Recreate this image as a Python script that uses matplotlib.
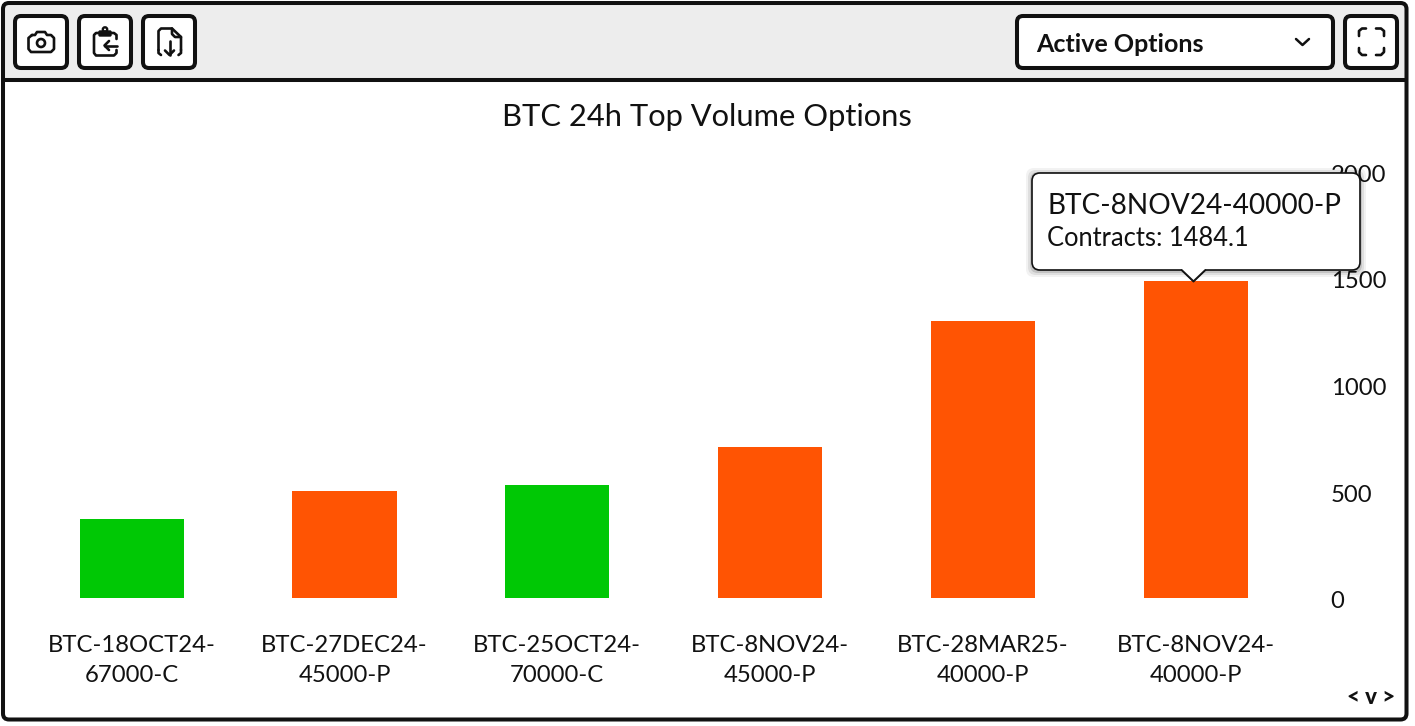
import matplotlib
matplotlib.use("Agg")
import matplotlib.pyplot as plt
from matplotlib.patches import FancyBboxPatch, Rectangle, Polygon, Circle

plt.rcParams['font.family'] = ['Lato', 'DejaVu Sans']

W, H = 1415, 726
categories = ["BTC-18OCT24-\n67000-C", "BTC-27DEC24-\n45000-P", "BTC-25OCT24-\n70000-C",
              "BTC-8NOV24-\n45000-P", "BTC-28MAR25-\n40000-P", "BTC-8NOV24-\n40000-P"]
contracts = [370, 501, 529, 707, 1297, 1484.1]
sides = ["C", "P", "C", "P", "P", "P"]
side_colors = {"C": "#00C805", "P": "#FF5403"}
y_ticks = [0, 500, 1000, 1500, 2000]
title = "BTC 24h Top Volume Options"
tooltip_lines = ["BTC-8NOV24-40000-P", "Contracts: 1484.1"]
dropdown_label = "Active Options"
INK = "#111111"

fig = plt.figure(figsize=(W / 100, H / 100), dpi=100, facecolor="white")

# chart axes placed in pixel terms
L, R, T, B = 25.3, 1302.1, 171, 598
ax = fig.add_axes([L / W, 1 - B / H, (R - L) / W, (B - T) / H], zorder=2)
ax.patch.set_alpha(0)
ax.bar(range(len(contracts)), contracts, width=0.49,
       color=[side_colors[s] for s in sides], linewidth=0)
ax.set_xlim(-0.5, 5.5)
ax.set_ylim(0, 2000)
ax.yaxis.tick_right()
ax.set_yticks(y_ticks)
ax.set_xticks(range(len(categories)))
ax.set_xticklabels(categories, fontsize=17.2, color=INK, linespacing=1.55)
ax.tick_params(axis='x', length=0, pad=26.5)
ax.tick_params(axis='y', length=0, pad=20.5, labelsize=17.2, labelcolor=INK)
for lab in ax.get_yticklabels():
    lab.set_transform(lab.get_transform() + matplotlib.transforms.ScaledTranslation(0, -2 / 100, fig.dpi_scale_trans))
for s in ax.spines.values():
    s.set_visible(False)

# overlay in pixel coordinates for the app chrome and the tooltip
ov = fig.add_axes([0, 0, 1, 1], zorder=3)
ov.set_xlim(0, W)
ov.set_ylim(H, 0)
ov.axis("off")
ov.patch.set_alpha(0)

bg = fig.add_axes([0, 0, 1, 1], zorder=1)
bg.set_xlim(0, W)
bg.set_ylim(H, 0)
bg.axis("off")
bg.add_patch(Rectangle((4, 4), 1402, 76, facecolor="#EDEDED", edgecolor="none"))
bg.text(707, 117, title, ha="center", va="center", fontsize=22.2, color=INK)

LW = 2.9

def button(x0, y0, x1, y1, r=6):
    ov.add_patch(FancyBboxPatch((x0 + r, y0 + r), x1 - x0 - 2 * r, y1 - y0 - 2 * r,
                                boxstyle=f"round,pad={r},rounding_size={r}",
                                facecolor="white", edgecolor=INK, linewidth=LW, zorder=3))

def stroke(xs, ys, lw=1.9):
    ov.plot(xs, ys, color=INK, lw=lw, solid_capstyle="round", solid_joinstyle="round", zorder=4)

# outer frame
ov.add_patch(FancyBboxPatch((9, 9), 1391.5, 704.5, boxstyle="round,pad=6,rounding_size=6",
                            facecolor="none", edgecolor=INK, linewidth=LW, zorder=2))
ov.plot([3, 1406.5], [80, 80], color=INK, lw=LW, zorder=2, solid_capstyle="butt")

button(15, 16, 67, 68)
button(79, 16, 131, 68)
button(143, 16, 195, 68)
button(1017, 16, 1333, 68)
button(1345, 16, 1397, 68)

# camera
stroke([32, 35, 37, 45, 47, 51, 54, 54, 51, 31, 28.5, 28.5, 32],
       [35, 35, 32, 32, 35, 35, 38, 49, 52, 52, 49, 38, 35])
ov.add_patch(Circle((41, 43), 4.0, facecolor="none", edgecolor=INK, linewidth=1.9, zorder=4))

# clipboard with arrow
stroke([99, 96, 94, 94, 96, 114, 116.5, 116.5], [33, 33, 35, 53, 55.5, 55.5, 53, 50])
stroke([111, 114, 116.5, 116.5], [33, 33, 35, 39])
ov.add_patch(FancyBboxPatch((100, 32), 10, 3, boxstyle="round,pad=1,rounding_size=1",
                            facecolor=INK, edgecolor=INK, linewidth=1, zorder=4))
ov.add_patch(Circle((105, 29.5), 2.2, facecolor="none", edgecolor=INK, linewidth=1.7, zorder=4))
stroke([117, 104.5], [45.5, 45.5])
stroke([109, 104.5, 109], [41, 45.5, 50])

# file with down arrow
stroke([158.5, 158.5, 161, 172, 181, 181], [50, 31, 28.5, 28.5, 37, 50])
stroke([172, 172, 175, 181], [28.5, 34, 37, 37])
stroke([158.5, 158.5, 161], [50, 53, 55])
stroke([181, 181, 178.5], [50, 53, 55])
stroke([169.5, 169.5], [41, 55])
stroke([165, 169.5, 174], [50.5, 55, 50.5])

# dropdown
ov.text(1036, 44, dropdown_label, ha="left", va="center", fontsize=18.0,
        fontweight="bold", color=INK, zorder=4)
stroke([1296, 1302.5, 1309], [39, 45, 39], lw=1.8)

# fullscreen corners
stroke([1359, 1359, 1362, 1366], [36, 31, 28.5, 28.5])
stroke([1376, 1381, 1384, 1384], [28.5, 28.5, 31, 36])
stroke([1359, 1359, 1362, 1366], [48, 52, 55, 55])
stroke([1376, 1381, 1384, 1384], [55, 55, 52, 48])

# small navigation marks
ov.text(1371, 697, "< v >", ha="center", va="center", fontsize=16,
        fontweight="black", color=INK, zorder=4)

# tooltip shadow, body and pointer
for off, a in [(8, 0.05), (6, 0.08), (4, 0.12), (2, 0.14)]:
    ov.add_patch(FancyBboxPatch((1040 - off + 2, 181 - off + 3), 312 + 2 * off - 4, 81 + 2 * off - 4,
                                boxstyle="round,pad=8,rounding_size=8",
                                facecolor="black", edgecolor="none", alpha=a, zorder=5))
ov.add_patch(FancyBboxPatch((1040, 181), 312, 81, boxstyle="round,pad=8,rounding_size=8",
                            facecolor="white", edgecolor=INK, linewidth=1.2, zorder=6))
ov.add_patch(Polygon([[1181, 270], [1193.5, 282], [1206, 270]], closed=True,
                     facecolor=INK, edgecolor=INK, linewidth=0.8, zorder=6))
ov.add_patch(Polygon([[1182, 269], [1193.5, 280], [1205, 269]], closed=True,
                     facecolor="white", edgecolor="none", zorder=7))
ov.text(1047, 206, tooltip_lines[0], ha="left", va="center", fontsize=20.2, color=INK, zorder=8)
ov.text(1047, 239, tooltip_lines[1], ha="left", va="center", fontsize=18.4, color=INK, zorder=8)

fig.savefig("out.png", dpi=100)
